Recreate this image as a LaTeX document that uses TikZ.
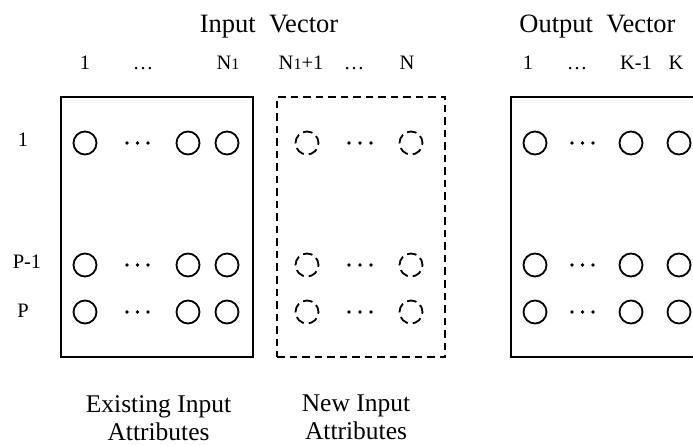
\documentclass[tikz,border=0pt]{standalone}
\usepackage{fontspec}
\setmainfont{Liberation Serif}
\begin{document}
\begin{tikzpicture}[x=1pt,y=-1pt,
  unit/.style={circle,draw,line width=1.8pt,minimum size=23pt,inner sep=0pt},
  newunit/.style={unit,dash pattern=on 9.5pt off 4.9pt,dash phase=2pt},
  frame/.style={draw,line width=1.8pt,inner sep=0pt,minimum height=260pt},
  newframe/.style={frame,dash pattern=on 7.5pt off 5pt},
  dot/.style={circle,fill,inner sep=0pt,minimum size=3.8pt},
  title/.style={font=\fontsize{26.5}{30}\selectfont,anchor=base,inner sep=0pt},
  idx/.style={font=\fontsize{20.5}{24}\selectfont,anchor=base,inner sep=0pt},
  caption/.style={font=\fontsize{25.5}{28}\selectfont,align=center,anchor=north,inner sep=0pt}]
\useasboundingbox (0,0) rectangle (693,446);

% headings
\node[title] (intitle)  at (269,33)   {Input~~Vector};
\node[title] (outtitle) at (597.5,33) {Output~~Vector};

% column indices
\newcommand{\Nsub}{N{\fontsize{16}{18}\selectfont 1}}
\node[idx] (c1)   at (85,70)  {1};
\node[idx] (c2)   at (143,70) {…};
\node[idx] (c3)   at (228,70) {\Nsub};
\node[idx] (c4)   at (301,70) {\Nsub+1};
\node[idx] (c5)   at (354,70) {…};
\node[idx] (c6)   at (407,70) {N};
\node[idx] (k1)   at (528,70) {1};
\node[idx] (k2)   at (577,70) {…};
\node[idx] (k3)   at (636,70) {K-1};
\node[idx] (k4)   at (676,70) {K};

% row indices
\node[idx] (r1) at (23,147) {1};
\node[idx] (r2) at (27,269) {P-1};
\node[idx] (r3) at (23,317) {P};

% frames
\node[frame,minimum width=192pt] (exist) at (157,227) {};
\node[newframe,minimum width=168pt] (new) at (361,227) {};
\begin{scope}
  \clip (0,0) rectangle (693,446);
  \node[frame,minimum width=250pt] (out) at (636,227) {};
\end{scope}

% units, one row per pattern
\foreach \y/\r in {143/1,265/2,312/3} {
  % existing input attributes
  \node[unit] (e\r a) at (85,\y)  {};
  \node[unit] (e\r b) at (188,\y) {};
  \node[unit] (e\r c) at (227,\y) {};
  \foreach \x in {127,137.5,148} \node[dot] at (\x,\y) {};
  % new input attributes
  \node[newunit] (n\r a) at (307,\y) {};
  \node[newunit] (n\r b) at (411,\y) {};
  \foreach \x in {349,360,371} \node[dot] at (\x,\y) {};
  % outputs
  \node[unit] (o\r a) at (535,\y) {};
  \node[unit] (o\r b) at (631,\y) {};
  \node[unit] (o\r c) at (679,\y) {};
  \foreach \x in {572,582.5,593} \node[dot] at (\x,\y) {};
}

% captions
\node[caption] (capexist) at (158.5,395) {Existing Input\\Attributes};
\node[caption] (capnew)   at (356,395)   {New Input\\Attributes};
\end{tikzpicture}
\end{document}
